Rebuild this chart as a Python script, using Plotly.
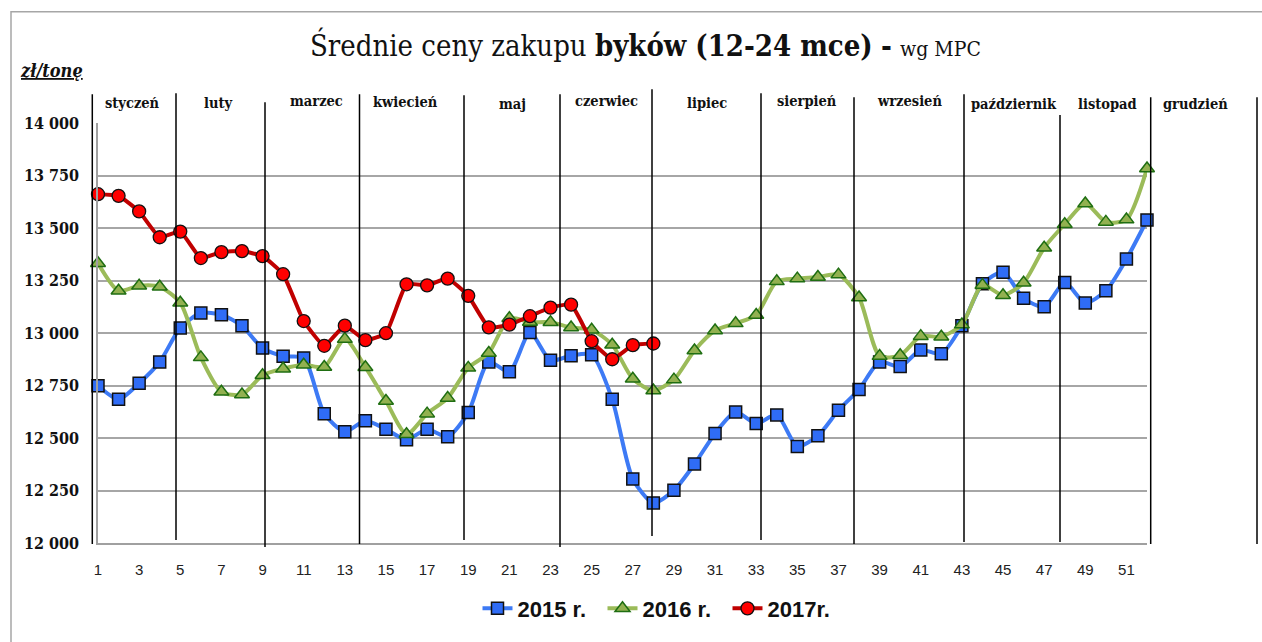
import plotly.graph_objects as go

weeks = list(range(1, 53))

y2015 = [12749, 12684, 12761, 12862, 13024, 13095, 13087, 13034, 12928, 12889,
         12881, 12616, 12530, 12582, 12542, 12492, 12542, 12506, 12621, 12862,
         12815, 13002, 12870, 12892, 12897, 12684, 12305, 12191, 12251, 12376,
         12522, 12624, 12569, 12610, 12460, 12511, 12632, 12731, 12862, 12840,
         12919, 12901, 13035, 13234, 13289, 13165, 13125, 13240, 13143, 13201,
         13352, 13538]

y2016 = [13332, 13201, 13225, 13220, 13144, 12884, 12720, 12707, 12799, 12830,
         12849, 12838, 12971, 12837, 12676, 12518, 12616, 12690, 12834, 12905,
         13070, 13052, 13051, 13026, 13015, 12944, 12782, 12726, 12778, 12917,
         13012, 13046, 13086, 13246, 13259, 13267, 13278, 13169, 12890, 12894,
         12985, 12982, 13040, 13228, 13180, 13239, 13406, 13518, 13617, 13529,
         13540, 13783]

y2017 = [13661, 13653, 13579, 13456, 13483, 13357, 13385, 13390, 13366, 13280,
         13057, 12939, 13035, 12966, 12999, 13232, 13227, 13259, 13177, 13027,
         13040, 13080, 13121, 13135, 12961, 12875, 12942, 12950]

months = ["styczeń", "luty", "marzec", "kwiecień", "maj", "czerwiec", "lipiec",
          "sierpień", "wrzesień", "październik", "listopad", "grudzień"]

x_ticks = list(range(1, 52, 2))
y_ticks = [12000, 12250, 12500, 12750, 13000, 13250, 13500, 13750, 14000]
y_tick_text = ["12 000", "12 250", "12 500", "12 750", "13 000", "13 250",
               "13 500", "13 750", "14 000"]

# layout geometry (pixels)
W, H = 1262, 642
L, R, T, B = 98, 1147, 123, 546


def px(x):
    return (x - L) / (R - L)


def py(y):
    return (B - y) / (B - T)


fig = go.Figure()

fig.add_trace(go.Scatter(
    x=weeks, y=y2015, name="2015 r.", mode="lines+markers",
    line=dict(color="#3d7af5", width=4, shape="spline", smoothing=0.7),
    marker=dict(symbol="square", size=12, color="#2f6cf6",
                line=dict(color="#111111", width=1.5)),
    cliponaxis=False))

fig.add_trace(go.Scatter(
    x=weeks, y=y2016, name="2016 r.", mode="lines+markers",
    line=dict(color="#9bbb59", width=4, shape="spline", smoothing=0.7),
    marker=dict(symbol="triangle-up", size=13, color="#92b150",
                line=dict(color="#1f6e12", width=1.5)),
    cliponaxis=False))

fig.add_trace(go.Scatter(
    x=weeks[:len(y2017)], y=y2017, name="2017r.", mode="lines+markers",
    line=dict(color="#c00000", width=4, shape="spline", smoothing=0.4),
    marker=dict(symbol="circle", size=13, color="#ff0000",
                line=dict(color="#111111", width=1.3)),
    cliponaxis=False))

shapes = []
# outer frame
shapes.append(dict(type="rect", xref="paper", yref="paper",
                   x0=px(11), x1=px(1275), y0=py(660), y1=py(11),
                   line=dict(color="#a6a6a6", width=1.5), layer="below"))

# month separators (pixel positions, top, bottom)
seps = [(92.3, 94, 547), (176, 93, 543), (265, 102, 550), (359.5, 94, 547),
        (464, 95, 543), (560, 94, 550), (652, 89, 539), (761, 93, 543),
        (854, 97, 547), (964, 94, 545), (1060, 115, 545), (1150.7, 97, 547),
        (1257, 97, 547)]
for sx, st, sb in seps:
    shapes.append(dict(type="line", xref="paper", yref="paper",
                       x0=px(sx), x1=px(sx), y0=py(sb), y1=py(st),
                       line=dict(color="#000000", width=1.5), layer="above"))

annotations = []
month_pos = [(132, 102), (218, 102), (316.5, 100), (405, 101), (512, 103),
             (606.5, 100), (706.5, 102), (807, 100), (909.5, 100), (1013.5, 103),
             (1107, 103), (1195, 103)]
for name, (mx, my) in zip(months, month_pos):
    annotations.append(dict(
        text="<b>" + name + "</b>", xref="paper", yref="paper",
        x=px(mx), y=py(my), xanchor="center", yanchor="middle", showarrow=False,
        font=dict(family="DejaVu Serif Condensed, DejaVu Serif", size=14.5,
                  color="#111111")))

annotations.append(dict(
    text=("Średnie ceny zakupu <b>byków (12-24 mce)</b> <b>-</b> "
          "<span style='font-size:21px'>wg MPC</span>"),
    xref="paper", yref="paper", x=px(645), y=py(44),
    xanchor="center", yanchor="middle", showarrow=False,
    font=dict(family="DejaVu Serif Condensed, DejaVu Serif", size=29,
              color="#111111")))

annotations.append(dict(
    text="<b><i><u>zł/tonę</u></i></b>", xref="paper", yref="paper",
    x=px(51.5), y=py(70), xanchor="center", yanchor="middle", showarrow=False,
    font=dict(family="DejaVu Serif Condensed, DejaVu Serif", size=18,
              color="#111111")))

fig.update_layout(
    width=W, height=H,
    margin=dict(l=L, r=W - R, t=T, b=H - B, pad=0),
    paper_bgcolor="white", plot_bgcolor="white",
    shapes=shapes, annotations=annotations,
    showlegend=True,
    legend=dict(orientation="h", x=px(665), y=py(612), xanchor="center",
                yanchor="middle", font=dict(family="Liberation Sans", size=22,
                                            color="#111111", weight="bold"),
                itemwidth=30, entrywidth=80, traceorder="normal",
                bgcolor="rgba(0,0,0,0)"),
    xaxis=dict(range=[1, 52], tickmode="array", tickvals=x_ticks,
               ticktext=[str(v) for v in x_ticks], showgrid=False,
               zeroline=False, showline=True, linecolor="#a0a0a0", linewidth=1.5,
               ticks="", ticklabelstandoff=12,
               tickfont=dict(family="Liberation Sans", size=15, color="#222222")),
    yaxis=dict(range=[12000, 14000], tickmode="array", tickvals=y_ticks,
               ticktext=y_tick_text, showgrid=True, gridcolor="#a6a6a6",
               gridwidth=1.5, zeroline=False, showline=True, linecolor="#a0a0a0",
               linewidth=1.5, ticks="", ticklabelstandoff=14,
               tickfont=dict(family="DejaVu Serif Condensed, DejaVu Serif",
                             size=16, color="#111111", weight="bold")),
)

fig.write_html("out.html",
               config={"displayModeBar": False},
               post_script="document.body.style.margin='0';"
                           "document.body.style.padding='0';")
